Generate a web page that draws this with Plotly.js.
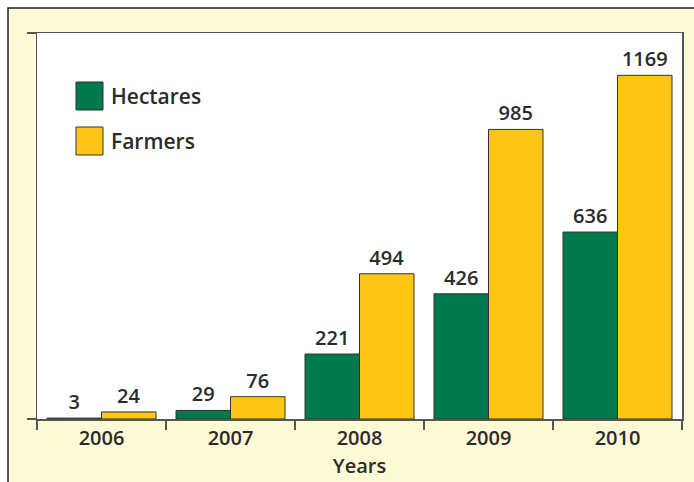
<!DOCTYPE html>
<html>
<head>
<meta charset="utf-8">
<script src="https://cdn.plot.ly/plotly-3.0.1.min.js"></script>
<style>html,body{margin:0;padding:0;background:#fff;}#chart{width:694px;height:482px;}</style>
</head>
<body>
<div id="chart"></div>
<script>
const years = ['2006', '2007', '2008', '2009', '2010'];
const seriesNames = ['Hectares', 'Farmers'];
const hectares = [3, 29, 221, 426, 636];
const farmers = [24, 76, 494, 985, 1169];
const xTitle = 'Years';

const W = 694, H = 482, L = 37, R = 12, T = 33, B = 63;
const pw = W - L - R, ph = H - T - B;
const px = x => (x - L) / pw;
const py = y => (H - B - y) / ph;

const FONT = 'Open Sans, Lato, sans-serif';
const TXT = '#2b2b2b';
const colors = ['#007A4B', '#FEC514'];

const traces = [hectares, farmers].map((vals, i) => ({
  type: 'bar',
  name: seriesNames[i],
  x: years,
  y: vals,
  text: vals.map(String),
  textposition: 'outside',
  cliponaxis: false,
  textfont: {family: FONT, size: 20, color: TXT, weight: 600},
  marker: {color: colors[i], line: {color: '#333', width: 1}},
  showlegend: false,
  hoverinfo: 'skip'
}));

const shapes = [
  {type: 'rect', xref: 'paper', yref: 'paper', layer: 'below',
   x0: px(8), x1: px(720), y0: py(520), y1: py(8),
   fillcolor: '#FFFAD6', line: {color: '#222', width: 1.5}},
  {type: 'rect', xref: 'paper', yref: 'paper', layer: 'below',
   x0: 0, x1: 1, y0: 0, y1: 1, fillcolor: '#ffffff', line: {width: 0}}
];
const annotations = [];
const legY = [96, 141];
seriesNames.forEach((n, i) => {
  shapes.push({type: 'rect', xref: 'paper', yref: 'paper',
    x0: px(76), x1: px(103), y0: py(legY[i] + 14), y1: py(legY[i] - 14),
    fillcolor: colors[i], line: {color: '#333', width: 1}});
  annotations.push({xref: 'paper', yref: 'paper', x: px(109), y: py(legY[i]),
    xanchor: 'left', yanchor: 'middle', showarrow: false, text: n,
    font: {family: FONT, size: 21, color: TXT, weight: 600}});
});

const layout = {
  width: W, height: H,
  margin: {l: L, r: R, t: T, b: B, pad: 0},
  paper_bgcolor: '#ffffff',
  plot_bgcolor: '#ffffff',
  barmode: 'group',
  bargap: 0.155,
  bargroupgap: 0,
  showlegend: false,
  xaxis: {
    type: 'category', range: [-0.5, 4.5],
    tickson: 'boundaries', ticks: 'outside', ticklen: 9, tickwidth: 1.5, tickcolor: '#555',
    showline: true, linecolor: '#555', linewidth: 1.5, mirror: true,
    showgrid: false, zeroline: false,
    tickfont: {family: FONT, size: 20, color: TXT, weight: 600},
    title: {text: xTitle, standoff: 9, font: {family: FONT, size: 20, color: TXT, weight: 600}}
  },
  yaxis: {
    range: [0, 1313], tickvals: [0, 1313], showticklabels: false,
    ticks: 'outside', ticklen: 9, tickwidth: 1.5, tickcolor: '#555',
    showline: true, linecolor: '#555', linewidth: 1.5, mirror: true,
    showgrid: false, zeroline: false
  },
  shapes: shapes,
  annotations: annotations
};

Plotly.newPlot('chart', traces, layout, {displayModeBar: false, staticPlot: true});
</script>
</body>
</html>
